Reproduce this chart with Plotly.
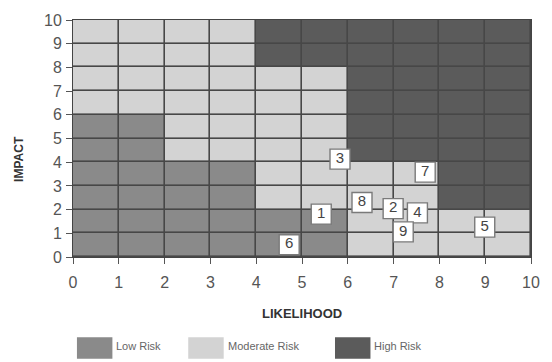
import numpy as np
import plotly.graph_objects as go

# Risk zone per 2x2 band (rows: impact 0-2 .. 8-10, cols: likelihood 0-2 .. 8-10)
# 0 = Low Risk, 1 = Moderate Risk, 2 = High Risk
zone_rows = [
    [0, 0, 0, 1, 1],
    [0, 0, 1, 1, 2],
    [0, 1, 1, 2, 2],
    [1, 1, 1, 2, 2],
    [1, 1, 2, 2, 2],
]
zone_names = ["Low Risk", "Moderate Risk", "High Risk"]
zone_colors = ["#8a8a8a", "#d3d3d3", "#5b5b5b"]

# Numbered risk items (likelihood, impact)
risk_ids = ["1", "2", "3", "4", "5", "6", "7", "8", "9"]
risk_likelihood = [5.42, 6.99, 5.83, 7.52, 8.99, 4.72, 7.69, 6.31, 7.21]
risk_impact = [1.81, 2.04, 4.13, 1.86, 1.26, 0.52, 3.58, 2.30, 1.06]

tick_vals = list(range(0, 11))

# Expand each band to unit cells so every unit grid line shows between bricks
z = np.kron(np.array(zone_rows), np.ones((2, 2), dtype=int))
centers = np.arange(10) + 0.5

colorscale = [
    [0.0, zone_colors[0]], [1 / 3, zone_colors[0]],
    [1 / 3, zone_colors[1]], [2 / 3, zone_colors[1]],
    [2 / 3, zone_colors[2]], [1.0, zone_colors[2]],
]

fig = go.Figure()
fig.add_trace(go.Heatmap(
    x=centers, y=centers, z=z, zmin=-0.5, zmax=2.5,
    colorscale=colorscale, showscale=False, xgap=1.6, ygap=1.6,
    hoverinfo="skip",
))
fig.add_trace(go.Scatter(
    x=risk_likelihood, y=risk_impact, text=risk_ids,
    mode="markers+text", textposition="middle center",
    marker=dict(symbol="square", size=20, color="white",
                line=dict(color="#7a7a7a", width=1.4)),
    textfont=dict(family="Arial, Liberation Sans", size=15, color="#444"),
    showlegend=False, hoverinfo="skip",
))

L, R, T, B = 73, 14, 15, 105
W, H = 552, 362
pw, ph = W - L - R, H - T - B

axis_common = dict(
    range=[0, 10], tickvals=tick_vals, showgrid=False, zeroline=False,
    showline=True, linecolor="#444", linewidth=1, mirror=True,
    ticks="outside", ticklen=6, tickcolor="#555", tickwidth=1,
    tickfont=dict(family="Arial, Liberation Sans", size=16, color="#555"),
    fixedrange=True,
)
fig.update_xaxes(ticklabelstandoff=5, **axis_common)
fig.update_yaxes(ticklabelstandoff=1, **axis_common)

def px_to_paper(px, py):
    return (px - L) / pw, (H - B - py) / ph

annotations = []
# Axis titles
ax_x, ax_y = px_to_paper(18, 157)
annotations.append(dict(text="<b>IMPACT</b>", x=ax_x, y=ax_y, xref="paper", yref="paper",
                        xanchor="center", yanchor="middle",
                        showarrow=False, textangle=-90,
                        font=dict(family="Arial, Liberation Sans", size=12, color="#333")))
lx, ly = px_to_paper(305, 315)
annotations.append(dict(text="<b>LIKELIHOOD</b>", x=lx, y=ly, xref="paper", yref="paper",
                        xanchor="center", yanchor="middle", showarrow=False,
                        font=dict(family="Arial, Liberation Sans", size=13, color="#333")))

# Legend swatches with labels
shapes = []
swatch_left = [77, 190, 339]
for name, color, sx in zip(zone_names, zone_colors, swatch_left):
    x0, y0 = px_to_paper(sx, 339)
    x1, y1 = px_to_paper(sx + 36, 361)
    shapes.append(dict(type="rect", xref="paper", yref="paper", x0=x0, x1=x1, y0=y0, y1=y1,
                       fillcolor=color, line=dict(width=0)))
    tx, ty = px_to_paper(sx + 38, 348)
    annotations.append(dict(text=name, x=tx, y=ty, xref="paper", yref="paper",
                            xanchor="left", yanchor="middle", showarrow=False,
                            font=dict(family="Arial, Liberation Sans", size=11, color="#666")))

fig.update_layout(
    width=W, height=H, margin=dict(l=L, r=R, t=T, b=B),
    paper_bgcolor="white", plot_bgcolor="#474747",
    annotations=annotations, shapes=shapes, showlegend=False,
)

fig.write_html("out.html")
